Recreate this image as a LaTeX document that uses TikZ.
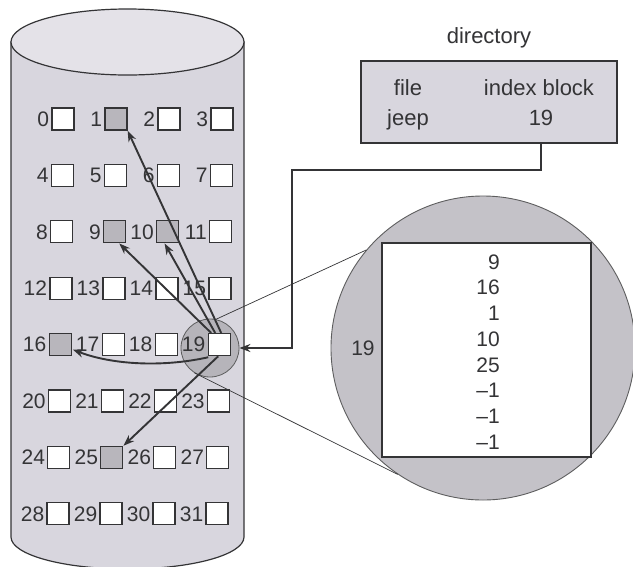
\documentclass[tikz,border=0pt]{standalone}
\usepackage{fontspec}
\setmainfont{Liberation Sans}
\usetikzlibrary{arrows.meta,calc}
\definecolor{ink}{HTML}{343436}
\definecolor{disk}{HTML}{D8D6DE}
\definecolor{blockgray}{HTML}{B8B6BC}
\definecolor{zoomgray}{HTML}{C4C2C8}
\definecolor{halo}{HTML}{B6B4BA}
\begin{document}
\begin{tikzpicture}[x=1pt,y=-1pt,
  blk/.style={draw=ink, line width=1.3pt, fill=white, minimum size=22pt, inner sep=0pt},
  used/.style={blk, fill=blockgray},
  lbl/.style={font=\fontsize{21}{25}\selectfont, text=ink, inner sep=0pt},
  big/.style={lbl, font=\fontsize{22}{26}\selectfont},
  ptr/.style={draw=ink, line width=1.9pt, -{Stealth[length=11pt,width=8pt]}},
  guide/.style={draw=ink, line width=0.7pt}]
\useasboundingbox (0,0) rectangle (633,566);
\fill[white] (0,0) rectangle (633,566);

% disk drawn as a cylinder
\filldraw[draw=ink, line width=1.2pt, fill=disk]
  (11,42) -- (11,537) arc[start angle=180, end angle=360, x radius=116.5pt, y radius=32pt]
  -- (244,42) -- cycle;
\filldraw[draw=ink, line width=1.2pt, fill=disk!70!white]
  (127.5,42) ellipse[x radius=116.5pt, y radius=33pt];

% highlight around the index block on the disk
\node[circle, draw=ink!80, line width=0.8pt, fill=halo, minimum size=58pt, inner sep=0pt] (sc) at (210,348) {};

% the 32 disk blocks with their numbers
\foreach \r in {0,...,7} {
  \foreach \c in {0,...,3} {
    \pgfmathtruncatemacro\n{4*\r+\c}
    \node[blk] (b\n) at ({63+53*\c-0.7*\r},{119+56.4*\r}) {};
    \node[lbl, anchor=east] (l\n) at ([xshift=-2pt]b\n.west) {\n};
  }
}
% blocks holding the file's data
\foreach \k in {1,9,10,16,25} {
  \node[used] (u\k) at (b\k.center) {};
}

% directory entry
\node[big, anchor=base] (dirtitle) at (489,43) {directory};
\node[draw=ink, line width=1.8pt, fill=disk, minimum width=256pt, minimum height=82pt, inner sep=0pt] (dir) at (489,102) {};
\node[big, anchor=base] (hfile) at (408,95) {file};
\node[big, anchor=base] (hidx) at (539,95) {index block};
\node[big, anchor=base] (fname) at (408,125) {jeep};
\node[big, anchor=base] (jnum) at (541,125) {19};

% magnified index block
\node[circle, draw=ink!80, line width=0.9pt, fill=zoomgray, minimum size=304pt, inner sep=0pt] (bc) at (483,348) {};
\node[draw=ink, line width=2.2pt, fill=white, minimum width=209pt, minimum height=214pt, inner sep=0pt] (ib) at (486.5,350) {};
\foreach \v [count=\i from 0] in {9,16,1,10,25,–1,–1,–1} {
  \node[lbl, anchor=east] (e\i) at (500,{262+25.7*\i}) {\v};
}
\node[lbl] (zlabel) at (363,348) {19};

% magnification guides
\draw[guide] (sc.78) -- (bc.140);
\draw[guide] (sc.238) -- (bc.236);

% pointer from the directory to the index block
\coordinate (elbowA) at (0,170);
\coordinate (elbowB) at (292,170);
\draw[ptr] (jnum |- dir.south) -- (jnum |- elbowA) -- (elbowB) -- (sc.east -| elbowB) -- (sc.east);

% pointers from the index block to the data blocks
\draw[ptr] ([xshift=2pt]b19.north) -- (b1.south east);
\draw[ptr] ([xshift=-8pt]b19.north) -- ([xshift=-7pt]b9.south east);
\draw[ptr] ([xshift=-4pt]b19.north) -- ([xshift=-3pt]b10.south);
\draw[ptr] ([xshift=-11pt,yshift=-1pt]b19.south) .. controls (160,368) and (110,364) .. ($(b16.east)+(1,5)$);
\draw[ptr] ([xshift=-1pt]b19.south) -- (b25.north east);
\end{tikzpicture}
\end{document}
